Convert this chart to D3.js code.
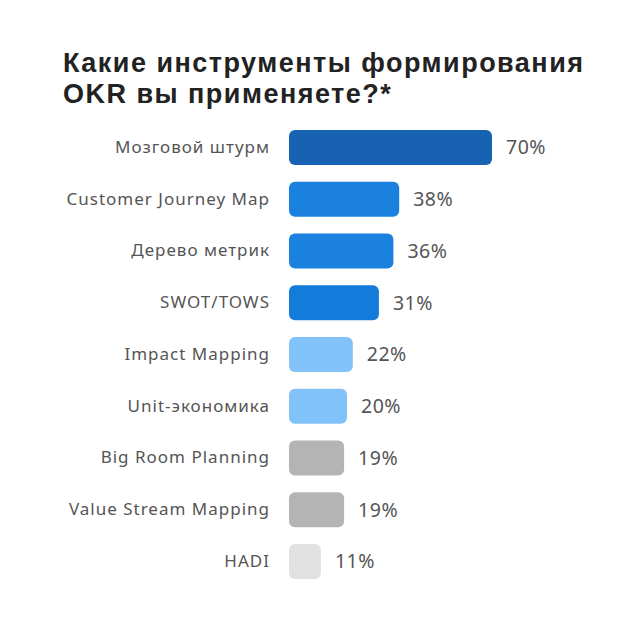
<!DOCTYPE html>
<html>
<head>
<meta charset="utf-8">
<script src="https://cdn.jsdelivr.net/npm/d3@7"></script>
<style>
  body { margin: 0; background: #fff; }
  svg { font-family: "Noto Sans", sans-serif; }
</style>
</head>
<body>
<div id="chart"></div>
<script>
const titleLines = ["Какие инструменты формирования", "OKR вы применяете?*"];
const categories = [
  "Мозговой штурм",
  "Customer Journey Map",
  "Дерево метрик",
  "SWOT/TOWS",
  "Impact Mapping",
  "Unit-экономика",
  "Big Room Planning",
  "Value Stream Mapping",
  "HADI"
];
const values = [70, 38, 36, 31, 22, 20, 19, 19, 11];
const barColors = [
  "#1762b2", "#1a82de", "#1a82de", "#137bd9",
  "#80c2f9", "#80c2f9", "#b4b4b4", "#b4b4b4", "#e1e1e1"
];

const width = 630, height = 640;

const svg = d3.select("#chart")
  .append("svg")
  .attr("width", width)
  .attr("height", height);

// Title, two lines; stretch spacing so line 1 spans 63..583 like the original
const titles = svg.selectAll(".title")
  .data(titleLines)
  .enter()
  .append("text")
  .attr("class", "title")
  .attr("x", 63)
  .attr("y", (d, i) => 72 + i * 31)
  .attr("font-family", "Liberation Sans, Arial, sans-serif")
  .attr("font-size", 27)
  .attr("font-weight", 700)
  .attr("fill", "#222")
  .text(d => d);
const firstLen = titles.node().getComputedTextLength();
const spacing = (520 - firstLen) / (titleLines[0].length - 1);
titles.attr("letter-spacing", Math.max(0, spacing));

const data = categories.map((c, i) => ({ name: c, value: values[i], color: barColors[i] }));

// Scales
const xScale = d3.scaleLinear()
  .domain([0, 70])
  .range([289, 492]);

const yScale = d3.scaleBand()
  .domain(categories)
  .range([130, 579])
  .paddingInner(0.3237)
  .paddingOuter(0);

// Category labels (axis without line/ticks)
const yAxis = svg.append("g")
  .attr("class", "axis y-axis")
  .attr("transform", "translate(276,0)")
  .call(d3.axisLeft(yScale).tickSize(0).tickPadding(6));
yAxis.select(".domain").remove();
yAxis.selectAll("text")
  .attr("font-size", 17)
  .attr("letter-spacing", 1)
  .attr("font-family", "Noto Sans, sans-serif")
  .attr("fill", "#555");

// Bars
svg.selectAll(".bar")
  .data(data)
  .enter()
  .append("rect")
  .attr("class", "bar")
  .attr("x", xScale(0))
  .attr("y", d => yScale(d.name))
  .attr("width", d => xScale(d.value) - xScale(0))
  .attr("height", yScale.bandwidth())
  .attr("rx", 6)
  .attr("fill", d => d.color);

// Value labels
svg.selectAll(".value")
  .data(data)
  .enter()
  .append("text")
  .attr("class", "value")
  .attr("x", d => xScale(d.value) + 14)
  .attr("y", d => yScale(d.name) + yScale.bandwidth() / 2)
  .attr("dy", "0.35em")
  .attr("font-size", 19.5)
  .attr("letter-spacing", 0.5)
  .attr("fill", "#555")
  .text(d => d.value + "%");
</script>
</body>
</html>
